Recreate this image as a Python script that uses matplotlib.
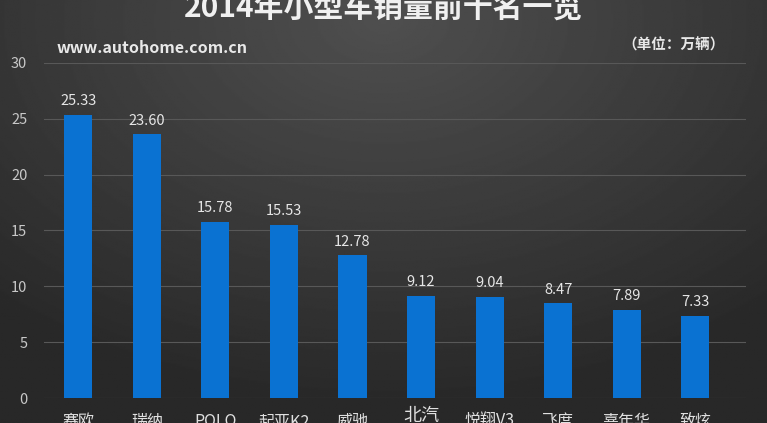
import matplotlib
matplotlib.use("Agg")
import matplotlib.pyplot as plt
import numpy as np

plt.rcParams['font.family'] = ['Noto Sans CJK SC', 'DejaVu Sans']

# data
cars = ['赛欧', '瑞纳', 'POLO', '起亚K2', '威驰', '北汽\nE系列', '悦翔V3', '飞度', '嘉年华', '致炫']
sales = [25.33, 23.60, 15.78, 15.53, 12.78, 9.12, 9.04, 8.47, 7.89, 7.33]
yticks = [0, 5, 10, 15, 20, 25, 30]

fig = plt.figure(figsize=(7.67, 4.23), dpi=100)

# dark radial background
bg = fig.add_axes([0, 0, 1, 1])
yy, xx = np.mgrid[0:1:300j, 0:1:500j]
r = np.sqrt(((xx - 0.5) / 0.75) ** 2 + ((yy - 0.05) / 0.9) ** 2)
shade = 0.31 - 0.15 * np.clip(r, 0, 1)
bg.imshow(shade, cmap='gray', vmin=0, vmax=1, aspect='auto',
          extent=[0, 1, 0, 1], origin='upper')
bg.axis('off')

ax = fig.add_axes([44 / 767, 25 / 423, 702 / 767, 335 / 423])
ax.set_facecolor('none')
x = np.arange(len(cars))
bars = ax.bar(x, sales, width=0.41, color='#0a72d2', zorder=3)

for b, v in zip(bars, sales):
    ax.text(b.get_x() + b.get_width() / 2, v + 0.6, '%.2f' % v,
            ha='center', va='bottom', color='#e6e6e6', fontsize=10.5)

ax.set_ylim(0, 30)
ax.set_xlim(-0.5, 9.74)
ax.set_yticks(yticks)
ax.set_yticklabels([str(t) for t in yticks], color='#c8c8c8', fontsize=10.5)
ax.yaxis.grid(True, color='#585858', linewidth=0.8, zorder=0)
ax.tick_params(axis='y', length=0, pad=12)
ax.set_xticks([])
for s in ax.spines.values():
    s.set_visible(False)

# category labels (cropped at the bottom like the source)
for i, name in enumerate(cars):
    top = -0.028 if '\n' in name else -0.045
    fs = 13 if '\n' in name else 11.5
    ax.text(i, top, name, transform=ax.get_xaxis_transform(),
            ha='center', va='top', color='#e0e0e0', fontsize=fs)

fig.text(0.5, 1 - 9 / 423, '2014年小型车销量前十名一览', ha='center', va='center',
         color='#f0f0f0', fontsize=21.5, fontweight='bold')
fig.text(57 / 767, 1 - 48 / 423, 'www.autohome.com.cn', ha='left', va='center',
         color='#e8e8e8', fontsize=11.5, fontweight='bold')
fig.text(725 / 767, 1 - 45 / 423, '（单位：万辆）', ha='right', va='center',
         color='#e8e8e8', fontsize=10.5, fontweight='bold')

fig.savefig('out.png', dpi=100)
